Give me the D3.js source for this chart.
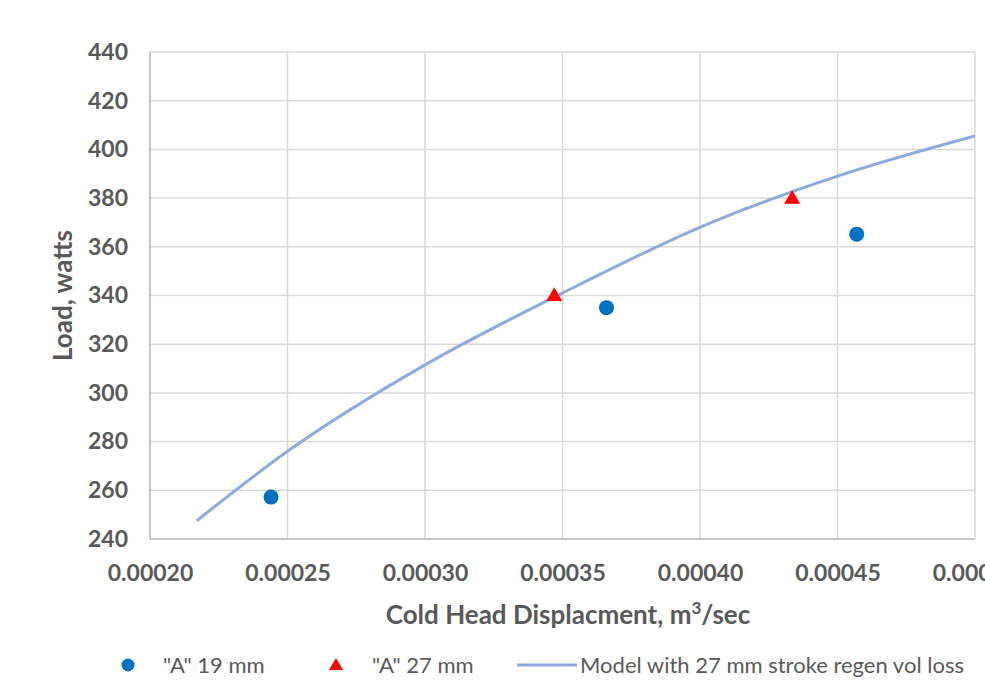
<!DOCTYPE html>
<html>
<head>
<meta charset="utf-8">
<script src="https://cdn.jsdelivr.net/npm/d3@7"></script>
<style>
  html, body { margin: 0; padding: 0; background: #fff; overflow: hidden; }
  svg { display: block; font-family: Lato, "Open Sans", sans-serif; }
</style>
</head>
<body>
<svg id="chart"></svg>
<script>
// ---- data ----
const series19x = [0.000244, 0.000366, 0.000457];
const series19y = [257.2, 335, 365.2];
const series27x = [0.000347, 0.0004335];
const series27y = [340, 380];
const modelX = [0.000217, 0.00025, 0.0003, 0.00035, 0.0004, 0.00045, 0.0005];
const modelY = [247.5, 276, 311.5, 341, 368, 389, 405.5];
const xTicks = [0.0002, 0.00025, 0.0003, 0.00035, 0.0004, 0.00045, 0.0005];
const yTicks = [240, 260, 280, 300, 320, 340, 360, 380, 400, 420, 440];
const legendLabels = ['"A" 19 mm', '"A" 27 mm', "Model with 27 mm stroke regen vol loss"];

// ---- layout ----
const width = 985, height = 680;
const plot = { left: 150, right: 975, top: 52, bottom: 539 };
const textColor = "#595959";
const gridColor = "#d9d9d9";

const svg = d3.select("#chart").attr("width", width).attr("height", height);

const x = d3.scaleLinear().domain([0.0002, 0.0005]).range([plot.left, plot.right]);
const y = d3.scaleLinear().domain([240, 440]).range([plot.bottom, plot.top]);

// gridlines
svg.append("g").selectAll("line.h")
  .data(yTicks)
  .enter().append("line")
  .attr("x1", plot.left).attr("x2", plot.right)
  .attr("y1", d => y(d)).attr("y2", d => y(d))
  .attr("stroke", gridColor).attr("stroke-width", 1.5);

svg.append("g").selectAll("line.v")
  .data(xTicks)
  .enter().append("line")
  .attr("y1", plot.top).attr("y2", plot.bottom)
  .attr("x1", d => x(d)).attr("x2", d => x(d))
  .attr("stroke", gridColor).attr("stroke-width", 1.5);

// axis lines
svg.append("line")
  .attr("x1", plot.left).attr("x2", plot.left)
  .attr("y1", plot.top).attr("y2", plot.bottom)
  .attr("stroke", "#bfbfbf").attr("stroke-width", 1.5);
svg.append("line")
  .attr("x1", plot.left).attr("x2", plot.right)
  .attr("y1", plot.bottom).attr("y2", plot.bottom)
  .attr("stroke", "#bfbfbf").attr("stroke-width", 1.5);

// axes (labels only)
const yAxis = svg.append("g")
  .attr("transform", `translate(${plot.left},0)`)
  .call(d3.axisLeft(y).tickValues(yTicks).tickSize(0).tickPadding(22));
const xAxis = svg.append("g")
  .attr("transform", `translate(0,${plot.bottom})`)
  .call(d3.axisBottom(x).tickValues(xTicks).tickSize(0).tickPadding(26)
    .tickFormat(d3.format(".5f")));

[yAxis, xAxis].forEach(g => {
  g.select(".domain").remove();
  g.selectAll("text")
    .attr("fill", textColor)
    .style("font-size", "23px")
    .style("font-weight", "bold")
    .style("font-family", "Lato, sans-serif");
});

// axis titles
svg.append("text")
  .attr("transform", `translate(72,${(plot.top + plot.bottom) / 2}) rotate(-90)`)
  .attr("text-anchor", "middle")
  .attr("fill", textColor)
  .style("font-size", "26px")
  .style("font-weight", "bold")
  .text("Load, watts");

const xTitle = svg.append("text")
  .attr("x", 568).attr("y", 624)
  .attr("text-anchor", "middle")
  .attr("fill", textColor)
  .style("font-size", "26px")
  .style("font-weight", "bold");
xTitle.append("tspan").text("Cold Head Displacment, m");
xTitle.append("tspan").attr("dy", -10).style("font-size", "17px").text("3");
xTitle.append("tspan").attr("dy", 10).text("/sec");

// clip for plot area
svg.append("clipPath").attr("id", "plot-clip")
  .append("rect")
  .attr("x", plot.left).attr("y", plot.top - 10)
  .attr("width", plot.right - plot.left).attr("height", plot.bottom - plot.top + 20);

// model line
const modelData = modelX.map((d, i) => [d, modelY[i]]);
const line = d3.line()
  .x(d => x(d[0]))
  .y(d => y(d[1]))
  .curve(d3.curveMonotoneX);

svg.append("path")
  .datum(modelData)
  .attr("clip-path", "url(#plot-clip)")
  .attr("d", line)
  .attr("fill", "none")
  .attr("stroke", "#8faadc")
  .attr("stroke-width", 3);

// 19 mm points
svg.append("g").selectAll("circle")
  .data(series19x.map((d, i) => [d, series19y[i]]))
  .enter().append("circle")
  .attr("cx", d => x(d[0]))
  .attr("cy", d => y(d[1]))
  .attr("r", 7.5)
  .attr("fill", "#0070c0");

// 27 mm points
const tri = d3.symbol().type(d3.symbolTriangle).size(110);
svg.append("g").selectAll("path")
  .data(series27x.map((d, i) => [d, series27y[i]]))
  .enter().append("path")
  .attr("transform", d => `translate(${x(d[0])},${y(d[1]) + 1})`)
  .attr("d", tri)
  .attr("fill", "#ff0000");

// legend
const legendY = 665;
const legend = svg.append("g").style("font-size", "22px").attr("fill", textColor);

legend.append("circle").attr("cx", 128).attr("cy", legendY).attr("r", 6.5).attr("fill", "#0070c0");
legend.append("text").attr("x", 163).attr("y", legendY).attr("dy", "0.35em").text(legendLabels[0]);

legend.append("path")
  .attr("transform", `translate(336,${legendY + 1})`)
  .attr("d", d3.symbol().type(d3.symbolTriangle).size(85))
  .attr("fill", "#ff0000");
legend.append("text").attr("x", 372).attr("y", legendY).attr("dy", "0.35em").text(legendLabels[1]);

legend.append("line")
  .attr("x1", 517).attr("x2", 577)
  .attr("y1", legendY).attr("y2", legendY)
  .attr("stroke", "#8faadc").attr("stroke-width", 3);
legend.append("text").attr("x", 580).attr("y", legendY).attr("dy", "0.35em").text(legendLabels[2]);
</script>
</body>
</html>
